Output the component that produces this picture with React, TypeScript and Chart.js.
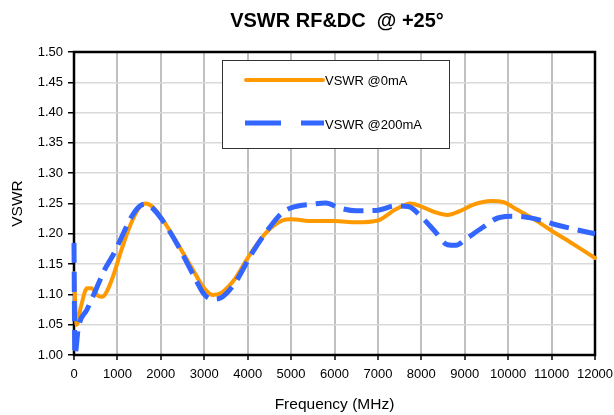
import React, { useEffect, useRef } from "react";
import { Chart, registerables } from "chart.js";

Chart.register(...registerables);

const chartTitle = "VSWR RF&DC  @ +25°";
const xTitle = "Frequency (MHz)";
const yTitle = "VSWR";
const seriesNames = ["VSWR @0mA", "VSWR @200mA"];

const freqA = [0, 60, 160, 300, 400, 550, 650, 750, 900, 1100, 1300, 1500, 1650, 1800, 2000, 2400, 2800, 3000, 3200, 3400, 3700, 4000, 4400, 4800, 5000, 5500, 6000, 6500, 7000, 7400, 7750, 8000, 8300, 8600, 8900, 9200, 9600, 9900, 10200, 10600, 11000, 11500, 12000];
const vswrA = [1.135, 1.05, 1.08, 1.11, 1.11, 1.098, 1.096, 1.104, 1.13, 1.175, 1.215, 1.243, 1.25, 1.245, 1.228, 1.182, 1.133, 1.11, 1.099, 1.103, 1.125, 1.16, 1.2, 1.222, 1.224, 1.221, 1.221, 1.219, 1.222, 1.24, 1.25, 1.245, 1.236, 1.231, 1.238, 1.248, 1.254, 1.252, 1.24, 1.224, 1.205, 1.183, 1.16];

const freqB = [0, 20, 100, 300, 500, 700, 900, 1100, 1300, 1500, 1650, 1800, 2000, 2400, 2800, 3000, 3200, 3400, 3700, 4100, 4500, 4800, 5100, 5500, 5800, 6100, 6500, 7000, 7400, 7700, 8000, 8300, 8600, 8800, 9000, 9400, 9800, 10200, 10600, 11100, 11500, 12000];
const vswrB = [1.185, 1.0, 1.045, 1.075, 1.107, 1.14, 1.165, 1.195, 1.225, 1.245, 1.249, 1.243, 1.226, 1.18, 1.125, 1.1, 1.092, 1.095, 1.118, 1.168, 1.21, 1.235, 1.245, 1.249, 1.251, 1.243, 1.238, 1.239, 1.246, 1.245, 1.228, 1.205, 1.182, 1.181, 1.19, 1.21, 1.227, 1.229, 1.225, 1.215, 1.208, 1.2];

const xMin = 0;
const xMax = 12000;
const xStep = 1000;
const yMin = 1.0;
const yMax = 1.5;
const yStep = 0.05;

const FONT = "'Liberation Sans', Arial, sans-serif";
const ORANGE = "#FF9900";
const BLUE = "#3366FF";

const decorPlugin = {
  id: "decor",
  beforeDatasetsDraw(chart: any) {
    const { ctx, chartArea: a } = chart;
    ctx.save();
    ctx.strokeStyle = "#000";
    ctx.lineWidth = 2.5;
    ctx.strokeRect(a.left, a.top, a.right - a.left, a.bottom - a.top);
    ctx.restore();
  },
  afterDraw(chart: any) {
    const { ctx, chartArea: a } = chart;
    ctx.save();
    // title
    ctx.fillStyle = "#000";
    ctx.font = `bold 20px ${FONT}`;
    ctx.textAlign = "center";
    ctx.textBaseline = "middle";
    ctx.fillText(chartTitle, 337, 21);
    // x title
    ctx.font = `15.5px ${FONT}`;
    ctx.fillText(xTitle, (a.left + a.right) / 2, 405);
    // y title
    ctx.save();
    ctx.translate(18, (a.top + a.bottom) / 2);
    ctx.rotate(-Math.PI / 2);
    ctx.fillText(yTitle, 0, 0);
    ctx.restore();
    // legend
    const bx = 222, by = 60, bw = 227, bh = 88;
    ctx.fillStyle = "#fff";
    ctx.fillRect(bx, by, bw, bh);
    ctx.strokeStyle = "#333";
    ctx.lineWidth = 1;
    ctx.strokeRect(bx + 0.5, by + 0.5, bw, bh);
    ctx.lineWidth = 4;
    ctx.strokeStyle = ORANGE;
    ctx.lineCap = "round";
    ctx.beginPath();
    ctx.moveTo(246, 80);
    ctx.lineTo(323, 80);
    ctx.stroke();
    ctx.lineCap = "butt";
    ctx.strokeStyle = BLUE;
    ctx.lineWidth = 5;
    ctx.setLineDash([36, 20]);
    ctx.beginPath();
    ctx.moveTo(245, 123);
    ctx.lineTo(324, 123);
    ctx.stroke();
    ctx.setLineDash([]);
    ctx.fillStyle = "#000";
    ctx.font = `13px ${FONT}`;
    ctx.textAlign = "left";
    ctx.textBaseline = "middle";
    ctx.fillText(seriesNames[0], 325, 81);
    ctx.fillText(seriesNames[1], 325, 125);
    ctx.restore();
  },
};

export default function App() {
  const ref = useRef<HTMLCanvasElement | null>(null);
  useEffect(() => {
    document.body.style.margin = "0";
    const canvas = ref.current;
    if (!canvas) return;
    const chart = new Chart(canvas, {
      type: "line",
      data: {
        datasets: [
          {
            label: seriesNames[1],
            data: freqB.map((f, i) => ({ x: f, y: vswrB[i] })),
            borderColor: BLUE,
            borderWidth: 5,
            borderDash: [20, 9],
            pointRadius: 0,
            cubicInterpolationMode: "monotone",
            fill: false,
            clip: false,
          },
          {
            label: seriesNames[0],
            data: freqA.map((f, i) => ({ x: f, y: vswrA[i] })),
            borderColor: ORANGE,
            borderWidth: 4,
            borderCapStyle: "round",
            borderJoinStyle: "round",
            pointRadius: 0,
            cubicInterpolationMode: "monotone",
            fill: false,
            clip: false,
          },
        ],
      },
      options: {
        responsive: false,
        animation: false,
        devicePixelRatio: 1,
        layout: { padding: { top: 52, left: 0, right: 19, bottom: 30 } },
        plugins: {
          legend: { display: false },
          title: { display: false },
          tooltip: { enabled: false },
        },
        scales: {
          x: {
            type: "linear",
            min: xMin,
            max: xMax,
            afterFit: (s: any) => {
              s.height = 30;
              s.paddingLeft = 0;
              s.paddingRight = 0;
            },
            ticks: {
              stepSize: xStep,
              color: "#000",
              font: { family: FONT, size: 13 },
              padding: 7,
              maxRotation: 0,
              autoSkip: false,
              callback: (v: any) => String(v),
            },
            grid: {
              color: "#c0c0c0",
              lineWidth: 2,
              tickColor: "#000",
              tickLength: 5,
              tickWidth: 1.5,
            },
            border: { display: false },
          },
          y: {
            min: yMin,
            max: yMax,
            afterFit: (s: any) => {
              s.width = 74;
              s.paddingTop = 0;
              s.paddingBottom = 0;
            },
            ticks: {
              stepSize: yStep,
              color: "#000",
              font: { family: FONT, size: 13 },
              padding: 5,
              autoSkip: false,
              callback: (v: any) => Number(v).toFixed(2),
            },
            grid: {
              color: "#d9d9d9",
              lineWidth: 1.5,
              tickColor: "#000",
              tickLength: 6,
              tickWidth: 1.5,
            },
            border: { display: false },
          },
        },
      },
      plugins: [decorPlugin],
    } as any);
    return () => chart.destroy();
  }, []);
  return (
    <div style={{ width: 614, height: 415, background: "#fff" }}>
      <canvas ref={ref} width={614} height={415} />
    </div>
  );
}
